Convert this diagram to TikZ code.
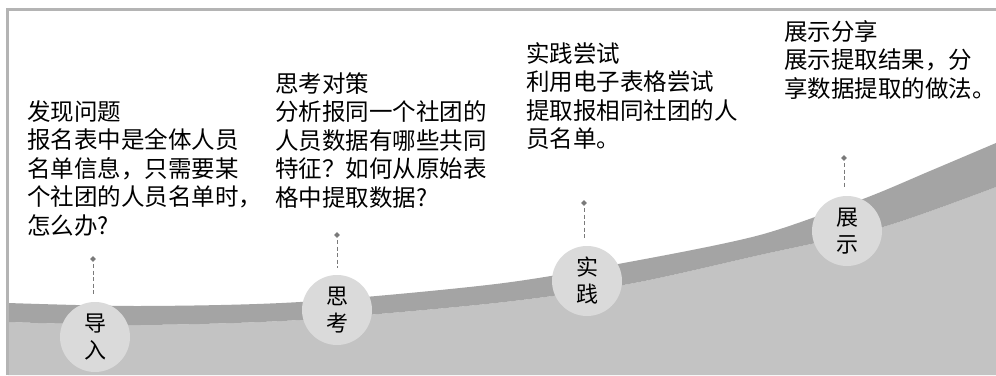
\documentclass[tikz,border=0pt]{standalone}
\usepackage{fontspec}
\newfontfamily\cjk{Noto Sans CJK SC}
\usetikzlibrary{shapes.geometric}
\definecolor{framegray}{HTML}{B4B4B4}
\definecolor{bandgray}{HTML}{A4A4A4}
\definecolor{lowgray}{HTML}{C3C3C3}
\definecolor{circgray}{HTML}{DADADA}
\definecolor{dashgray}{HTML}{7A7A7A}
\tikzset{
  blocktext/.style={anchor=north west, inner sep=0pt, align=left,
    font=\cjk\fontsize{23.5}{28.5}\selectfont},
  stagecirc/.style={circle, fill=circgray, minimum size=70pt, inner sep=0pt,
    align=center, font=\cjk\fontsize{22}{27}\selectfont},
  pin/.style={diamond, fill=dashgray, minimum size=6pt, inner sep=0pt},
  pinline/.style={draw=dashgray, dash pattern=on 4pt off 2.5pt, line width=1pt, shorten >=7pt, shorten <=2pt}
}
\begin{document}
\begin{tikzpicture}[x=1pt,y=-1pt]
\useasboundingbox (0,0) rectangle (996,375);
\fill[white] (0,0) rectangle (996,375);
% lower fill
\fill[lowgray] plot[smooth] coordinates {(8,322) (140,325) (300,320) (496,303) (629,284) (760,255) (883,227) (996,187)} -- (996,375) -- (8,375) -- cycle;
% band
\fill[bandgray] plot[smooth] coordinates {(8,303) (140,306) (300,302) (496,284) (629,262) (760,235) (863,199) (930,171) (996,143)}
  -- plot[smooth] coordinates {(996,187) (883,227) (760,255) (629,284) (496,303) (300,320) (140,325) (8,322)} -- cycle;
% frame
\draw[framegray, line width=3pt] (7,375) -- (7,9) -- (996,9);
% texts
\node[blocktext] (t1) at (27,100) {发现问题\\报名表中是全体人员\\名单信息，只需要某\\个社团的人员名单时，\\怎么办?};
\node[blocktext] (t2) at (275,72) {思考对策\\分析报同一个社团的\\人员数据有哪些共同\\特征？如何从原始表\\格中提取数据?};
\node[blocktext] (t3) at (526,42) {实践尝试\\利用电子表格尝试\\提取报相同社团的人\\员名单。};
\node[blocktext] (t4) at (784,20) {展示分享\\展示提取结果，分\\享数据提取的做法。};
% circles
\node[stagecirc] (c1) at (95,337) {导\\入};
\node[stagecirc] (c2) at (337,310) {思\\考};
\node[stagecirc] (c3) at (587,281) {实\\践};
\node[stagecirc] (c4) at (847,231) {展\\示};
% pins
\node[pin] (d1) at (93,259) {};
\node[pin] (d2) at (337,235) {};
\node[pin] (d3) at (584,203) {};
\node[pin] (d4) at (844,158) {};
\draw[pinline] (d1) -- (d1 |- c1.north);
\draw[pinline] (d2) -- (d2 |- c2.north);
\draw[pinline] (d3) -- (d3 |- c3.north);
\draw[pinline] (d4) -- (d4 |- c4.north);
\end{tikzpicture}
\end{document}
